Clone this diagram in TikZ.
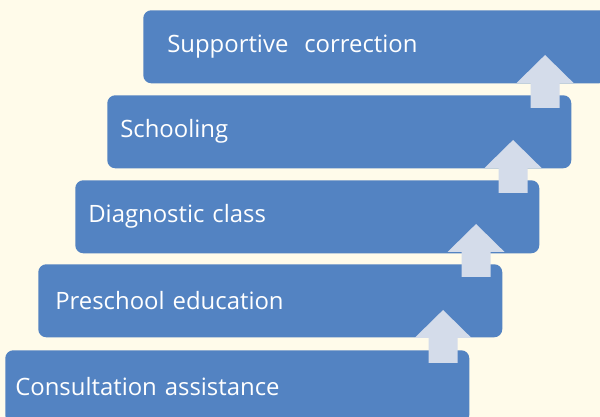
\documentclass[tikz,border=0pt]{standalone}
\usepackage{fontspec}
\setmainfont{Open Sans}
\usepackage{tikz}
\usetikzlibrary{positioning,calc}
\usepackage{xcolor}
\definecolor{cream}{RGB}{255,251,234}
\definecolor{stepblue}{RGB}{83,131,194}
\definecolor{arrowgrey}{RGB}{212,220,234}

\begin{document}
\begin{tikzpicture}[
    box/.style={rectangle, fill=stepblue, rounded corners=0.2cm, anchor=north west,
        minimum height=1.825cm, inner xsep=0.325cm, text width=10.95cm, align=left,
        text=white, font=\fontsize{17}{20}\selectfont},
    uparrow/.style={fill=arrowgrey}
]
    \useasboundingbox (0,0) rectangle (15,10.425);
    \fill[cream] (0,0) rectangle (15,10.425);
    \clip (0,0) rectangle (15,10.425);

    % steps, bottom to top
    \node[box, inner xsep=0.25cm, text width=11.1cm] (consult) at (0.125,1.675) {Consultation assistance};
    \node[box, inner xsep=0.425cm, text width=10.75cm] (preschool) at (0.95,3.825) {Preschool education};
    \node[box] (diagnostic) at (1.875,5.925) {Diagnostic class};
    \node[box] (schooling) at (2.675,8.05) {Schooling};
    \node[box, inner xsep=0.6cm, text width=10.4cm] (support) at (3.575,10.175) {Supportive\ \ correction};

    % arrows between the steps
    \foreach \lo in {consult,preschool,diagnostic,schooling}{
        \fill[uparrow] ($(\lo.north east)+(-1.025,-0.325)$) -- ++(0,0.625) -- ++(-0.35,0)
            -- ++(0.7125,0.7) -- ++(0.7125,-0.7) -- ++(-0.35,0) -- ++(0,-0.625) -- cycle;
    }
\end{tikzpicture}
\end{document}
